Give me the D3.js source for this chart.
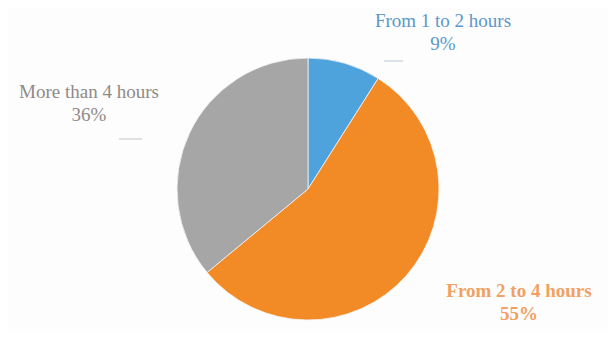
<!DOCTYPE html>
<html>
<head>
<meta charset="utf-8">
<script src="https://cdn.jsdelivr.net/npm/d3@7/dist/d3.min.js"></script>
<style>
  html, body { margin: 0; padding: 0; background: #ffffff; }
  svg { display: block; }
</style>
</head>
<body>
<svg id="chart" width="616" height="340"></svg>
<script>
// Daily time spent, share of respondents
const categories = ["From 1 to 2 hours", "From 2 to 4 hours", "More than 4 hours"];
const shares = [9, 55, 36];
const sliceColors = ["#4fa3dc", "#f28a26", "#a6a6a6"];
const labelColors = ["#5b97c9", "#f2a163", "#8f8a88"];

const svg = d3.select("#chart");
const W = 616, H = 340;

svg.append("rect").attr("width", W).attr("height", H).attr("fill", "#ffffff");
svg.append("rect").attr("x", 8).attr("y", 8).attr("width", W - 16).attr("height", H - 16)
  .attr("fill", "#fdfdfd");

const cx = 308, cy = 189, r = 131;

const pie = d3.pie().sort(null).value(d => d)(shares);
const arc = d3.arc().innerRadius(0).outerRadius(r);

const g = svg.append("g").attr("transform", `translate(${cx},${cy})`);
g.selectAll("path.slice")
  .data(pie)
  .join("path")
  .attr("class", "slice")
  .attr("d", arc)
  .attr("fill", (d, i) => sliceColors[i])
  .attr("stroke", "#f4f4f4")
  .attr("stroke-width", 0.8);

// Label placement for each slice (centre x, first baseline)
const labelPos = [
  { x: 443, y: 27, weight: "normal" },
  { x: 519, y: 297, weight: "bold" },
  { x: 89, y: 98, weight: "normal" }
];

const labels = svg.append("g").attr("font-family", "'Liberation Serif', 'Times New Roman', serif")
  .attr("font-size", 19).attr("text-anchor", "middle");

pie.forEach((d, i) => {
  const t = labels.append("text")
    .attr("x", labelPos[i].x).attr("y", labelPos[i].y)
    .attr("fill", labelColors[i])
    .attr("font-weight", labelPos[i].weight);
  t.append("tspan").attr("x", labelPos[i].x).text(categories[i]);
  t.append("tspan").attr("x", labelPos[i].x).attr("dy", 23).text(d.data + "%");
});

// faint leader stubs
const stubs = [
  { x1: 384, x2: 403, y: 61, c: "#b9c6d3" },
  { x1: 119, x2: 142, y: 139, c: "#c4c4c4" }
];
svg.selectAll("line.stub").data(stubs).join("line")
  .attr("class", "stub")
  .attr("x1", d => d.x1).attr("x2", d => d.x2)
  .attr("y1", d => d.y).attr("y2", d => d.y)
  .attr("stroke", d => d.c).attr("stroke-width", 1);
</script>
</body>
</html>
